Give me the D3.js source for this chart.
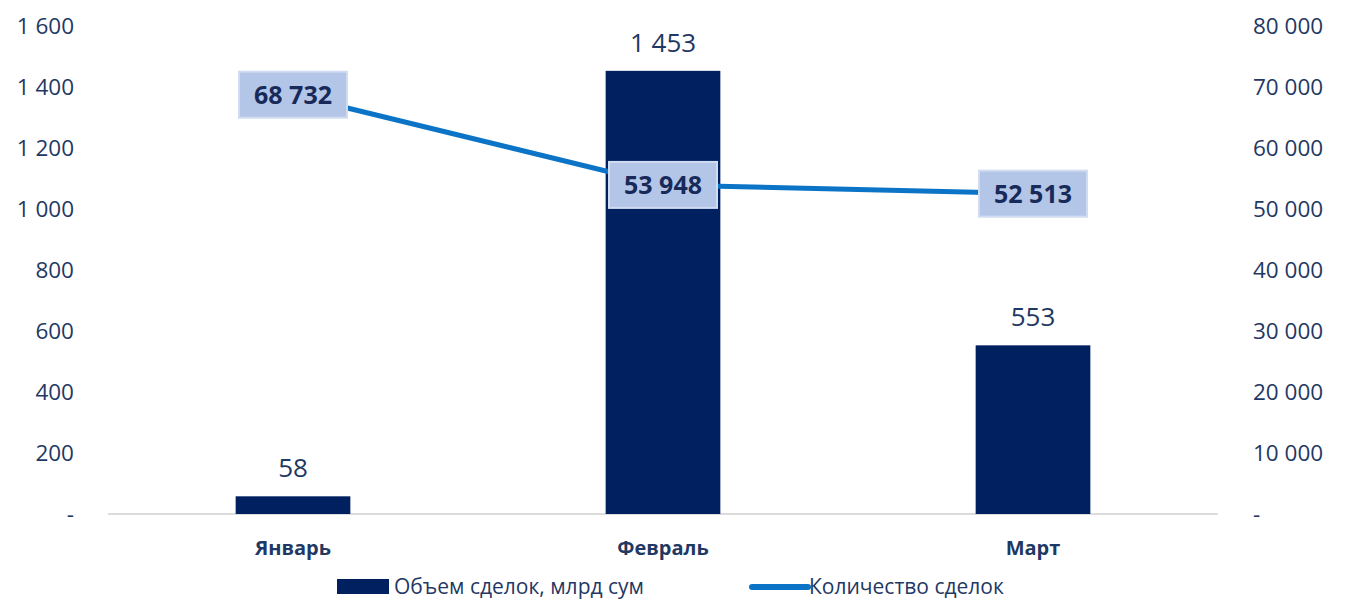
<!DOCTYPE html>
<html>
<head>
<meta charset="utf-8">
<script src="https://cdn.jsdelivr.net/npm/d3@7"></script>
<style>
  body { margin: 0; background: #fff; }
  text { font-family: "Open Sans", "Noto Sans", sans-serif; }
</style>
</head>
<body>
<svg width="1347" height="601"></svg>
<script>
var months = ["Январь", "Февраль", "Март"];
var volume = [58, 1453, 553];          // Объем сделок, млрд сум
var deals = [68732, 53948, 52513];     // Количество сделок
var leftTicks = [0, 200, 400, 600, 800, 1000, 1200, 1400, 1600];
var rightTicks = [0, 10000, 20000, 30000, 40000, 50000, 60000, 70000, 80000];

var svg = d3.select("svg");
var x0 = 108, x1 = 1218, yTop = 26, yBase = 514;
var navy = "#002060", textCol = "#1f3864", lineCol = "#0b74c7";

var fmt = function(v) { return v === 0 ? "-" : d3.format(",")(v).replace(/,/g, " "); };

var x = d3.scaleBand().domain(months).range([x0, x1]).paddingInner(0.69).paddingOuter(0.345);
var yL = d3.scaleLinear().domain([0, 1600]).range([yBase, yTop]);
var yR = d3.scaleLinear().domain([0, 80000]).range([yBase, yTop]);

// left axis
var axL = svg.append("g").attr("transform", "translate(74,0)")
    .call(d3.axisLeft(yL).tickValues(leftTicks).tickFormat(fmt).tickSize(0).tickPadding(0));
axL.select(".domain").remove();
axL.selectAll("text").attr("fill", textCol).style("font-size", "22.5px");

// right axis
var axR = svg.append("g").attr("transform", "translate(1253,0)")
    .call(d3.axisRight(yR).tickValues(rightTicks).tickFormat(fmt).tickSize(0).tickPadding(0));
axR.select(".domain").remove();
axR.selectAll("text").attr("fill", textCol).style("font-size", "22.5px");

// baseline
svg.append("line").attr("x1", x0).attr("x2", x1).attr("y1", yBase).attr("y2", yBase)
    .attr("stroke", "#d0d0d0").attr("stroke-width", 1.5);

// category labels
svg.append("g").selectAll("text").data(months).join("text")
    .attr("x", function(d) { return x(d) + x.bandwidth() / 2; })
    .attr("y", 555)
    .attr("text-anchor", "middle")
    .attr("fill", textCol)
    .style("font-size", "20px").style("font-weight", "bold")
    .text(function(d) { return d; });

// bars
svg.append("g").selectAll("rect").data(volume).join("rect")
    .attr("x", function(d, i) { return x(months[i]); })
    .attr("y", function(d) { return yL(d); })
    .attr("width", x.bandwidth())
    .attr("height", function(d) { return yBase - yL(d); })
    .attr("fill", navy);

svg.append("g").selectAll("text").data(volume).join("text")
    .attr("x", function(d, i) { return x(months[i]) + x.bandwidth() / 2; })
    .attr("y", function(d) { return yL(d) - 19; })
    .attr("text-anchor", "middle")
    .attr("fill", textCol)
    .style("font-size", "26px")
    .text(fmt);

// line
var line = d3.line()
    .x(function(d, i) { return x(months[i]) + x.bandwidth() / 2; })
    .y(function(d) { return yR(d); });

svg.append("path").datum(deals)
    .attr("d", line)
    .attr("fill", "none")
    .attr("stroke", lineCol)
    .attr("stroke-width", 5);

// line labels
var lbl = svg.append("g").selectAll("g").data(deals).join("g")
    .attr("transform", function(d, i) {
        return "translate(" + (x(months[i]) + x.bandwidth() / 2) + "," + yR(d) + ")";
    });
lbl.append("rect")
    .attr("x", -54).attr("y", -23).attr("width", 108).attr("height", 46)
    .attr("fill", "#b4c6e7").attr("stroke", "#cfdcf1").attr("stroke-width", 2);
lbl.append("text")
    .attr("text-anchor", "middle").attr("dy", "0.36em")
    .attr("fill", "#172a5a")
    .style("font-size", "25px").style("font-weight", "bold")
    .text(fmt);

// legend
var lg = svg.append("g");
lg.append("rect").attr("x", 337).attr("y", 579).attr("width", 52).attr("height", 15).attr("fill", navy);
lg.append("text").attr("x", 394).attr("y", 594).attr("fill", textCol).style("font-size", "21px")
    .text("Объем сделок, млрд сум");
lg.append("line").attr("x1", 752).attr("x2", 808).attr("y1", 587).attr("y2", 587)
    .attr("stroke", lineCol).attr("stroke-width", 6).attr("stroke-linecap", "round");
lg.append("text").attr("x", 809).attr("y", 594).attr("fill", textCol).style("font-size", "21px")
    .text("Количество сделок");
</script>
</body>
</html>
